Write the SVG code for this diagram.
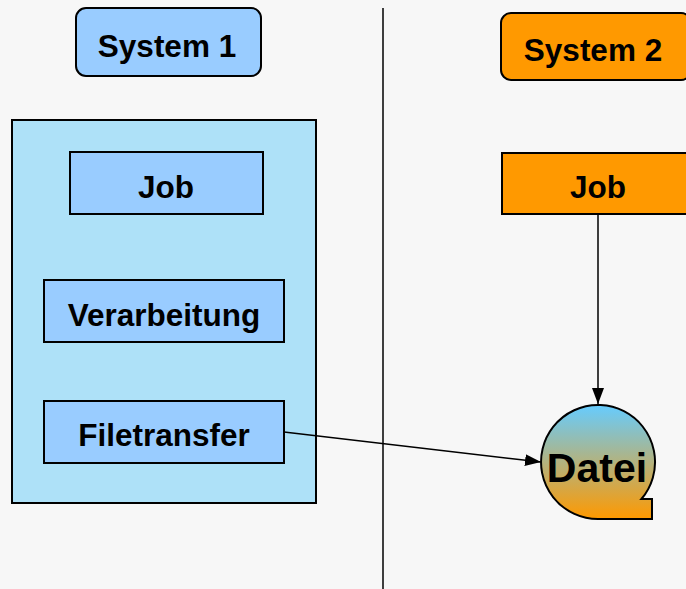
<svg xmlns="http://www.w3.org/2000/svg" width="686" height="589" viewBox="0 0 686 589">
<defs>
<style>
.t{font-family:"Liberation Sans",Arial,sans-serif;font-weight:bold;font-size:31.5px;fill:#000;text-anchor:middle}
.b{stroke:#000;stroke-width:2}
.c{stroke:#000;stroke-width:1.5;fill:none}
</style>
<linearGradient id="g" x1="0" y1="0" x2="0" y2="1">
<stop offset="0" stop-color="#66ccff"/>
<stop offset="1" stop-color="#ff9900"/>
</linearGradient>
<marker id="a2" viewBox="0 0 16 12" refX="16" refY="6" markerWidth="16" markerHeight="12" markerUnits="userSpaceOnUse" orient="auto">
<path d="M0,0 L16,6 L0,12 Z" fill="#000"/>
</marker>
</defs>
<rect width="686" height="589" fill="#f7f7f7"/>
<line x1="383" y1="8" x2="383" y2="589" stroke="#000" stroke-width="1.5"/>
<g id="system1"><rect x="76" y="8" width="185" height="68" rx="10" fill="#99ccff" class="b"/><text x="167" y="57" class="t">System 1</text></g>
<g id="system2"><rect x="501" y="13" width="190" height="67" rx="10" fill="#ff9900" class="b"/><text x="593" y="61" class="t">System 2</text></g>
<g id="container"><rect x="12" y="120" width="304" height="383" fill="#aee1f8" class="b"/></g>
<g id="job1"><rect x="70" y="152" width="193" height="62" fill="#99ccff" class="b"/><text x="166" y="198" class="t">Job</text></g>
<g id="verarbeitung"><rect x="44" y="280" width="240" height="62" fill="#99ccff" class="b"/><text x="164" y="326" class="t">Verarbeitung</text></g>
<g id="filetransfer"><rect x="44" y="401" width="240" height="62" fill="#99ccff" class="b"/><text x="164" y="446" class="t">Filetransfer</text></g>
<g id="job2"><rect x="502" y="153" width="190" height="61" fill="#ff9900" class="b"/><text x="598" y="198" class="t">Job</text></g>
<g id="datei"><path d="M598,519 A57,57 0 1 1 641.4,499 L652,499 L652,519 Z" fill="url(#g)" class="b"/><text x="597" y="482" class="t" style="font-size:41px">Datei</text></g>
<g id="connectors">
<line x1="598" y1="214" x2="598" y2="404" class="c" marker-end="url(#a2)"/>
<line x1="284" y1="432" x2="541" y2="462" class="c" marker-end="url(#a2)"/>
</g>
</svg>
